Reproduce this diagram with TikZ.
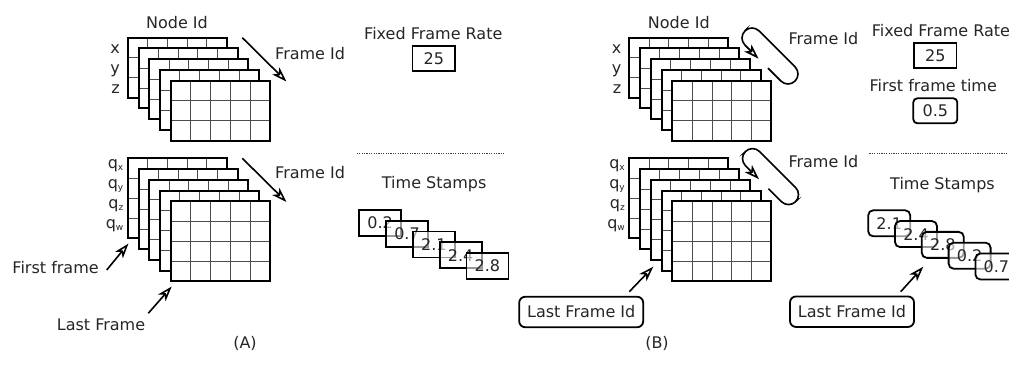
\documentclass[tikz,border=0pt]{standalone}
\usepackage{fontspec}
\setmainfont{DejaVu Sans}
\usetikzlibrary{arrows.meta}
\newcommand\FrameStack[4]{% #1 x, #2 y, #3 height, #4 row lines
  \foreach \i in {0,...,4}{
    \begin{scope}[shift={({#1+10.8*\i},{#2+10.8*\i})}]
      \fill[white] (0,0) rectangle (99,#3);
      \foreach \c in {1,...,4} \draw[gridline] ({19.8*\c},0) -- ({19.8*\c},#3);
      \foreach \r in {#4} \draw[gridline] (0,\r) -- (99,\r);
      \draw[frameline] (0,0) rectangle (99,#3);
    \end{scope}
  }%
}
\newcommand\LoopArrow[2]{%
  \begin{scope}[shift={(#1,#2)}]
    \draw[arr, rounded corners=10pt] (768,68.14) -- (788,88.14) -- (802.14,74) -- (752,23.86) -- (737.86,38) -- (758.5,58.64);
  \end{scope}%
}
\newcommand\qsub[1]{q\raisebox{-2pt}{\fontsize{9}{9}\selectfont #1}}
\begin{document}
\begin{tikzpicture}[x=1pt,y=-1pt,
  every node/.style={font=\fontsize{16}{19}\selectfont, inner sep=0pt, text=black!85},
  frameline/.style={line width=2pt, black},
  gridline/.style={line width=1pt, black!70},
  arr/.style={line width=1.6pt, -{Stealth[open, length=15pt, width=10pt, inset=4pt]}},
  sqbox/.style={draw, line width=1.8pt, minimum width=42.5pt, minimum height=25pt},
  rbox/.style={sqbox, rounded corners=4pt},
  tsbox/.style={draw, line width=1.8pt, fill=white, fill opacity=0.6, text opacity=1, minimum width=42pt, minimum height=26pt},
  tsrbox/.style={tsbox, rounded corners=5pt},
  lfbox/.style={draw, line width=1.8pt, rounded corners=6pt, minimum width=124pt, minimum height=30.5pt},
  dotline/.style={line width=1.3pt, black!75, dash pattern=on 1.2pt off 1.2pt},
]
\useasboundingbox[fill=white] (0,0) rectangle (1009,379);

% ===================== Panel A =====================
\FrameStack{127.7}{37.7}{60}{20,40}
\FrameStack{127.7}{158.3}{80}{20,40,60}

\node[anchor=base] (nidA) at (177,28.3) {Node Id};
\node[anchor=base east] (xA) at (120,53.3) {x};
\node[anchor=base east] (yA) at (120,73.3) {y};
\node[anchor=base east] (zA) at (120,93.3) {z};
\node[anchor=base east] (qxA) at (123.5,168.3) {\qsub{x}};
\node[anchor=base east] (qyA) at (123.5,188.3) {\qsub{y}};
\node[anchor=base east] (qzA) at (123.5,208.3) {\qsub{z}};
\node[anchor=base east] (qwA) at (123.5,228.3) {\qsub{w}};

\coordinate (fa1) at (242.3,37.7);  \coordinate (fa2) at (286.5,81.5);
\coordinate (fa3) at (242.3,158.3); \coordinate (fa4) at (286.5,202);
\draw[arr] (fa1) -- (fa2);
\draw[arr] (fa3) -- (fa4);
\node[anchor=base west] (fidA1) at (275,60) {Frame Id};
\node[anchor=base west] (fidA2) at (275,179) {Frame Id};

\node[anchor=base west] (ffA) at (12.3,273.3) {First frame};
\coordinate (ffs) at (106.7,270); \coordinate (ffe) at (128.5,243.5);
\draw[arr] (ffs) -- (ffe);
\node[anchor=base west] (lfA) at (56.7,330) {Last Frame};
\coordinate (lfs) at (148.3,313.3); \coordinate (lfe) at (171.7,286.5);
\draw[arr] (lfs) -- (lfe);

\node[anchor=base] (ffrA) at (433.3,40) {Fixed Frame Rate};
\node[sqbox] (rateA) at (433.8,58.2) {25};
\draw[dotline] (356.7,153.3) -- (504,153.3);
\node[anchor=base] (tsA) at (434.2,189) {Time Stamps};
\node[tsbox] (ta1) at (380.2,222.9) {0.2};
\node[tsbox] (ta2) at (407.0,233.7) {0.7};
\node[tsbox] (ta3) at (433.8,244.5) {2.1};
\node[tsbox] (ta4) at (460.6,255.3) {2.4};
\node[tsbox] (ta5) at (487.4,266.1) {2.8};

\node (labA) at (245,343) {(A)};

% ===================== Panel B =====================
\FrameStack{629.2}{37.7}{60}{20,40}
\FrameStack{629.2}{158.3}{80}{20,40,60}

\node[anchor=base] (nidB) at (678.8,28.3) {Node Id};
\node[anchor=base east] (xB) at (621.5,53.3) {x};
\node[anchor=base east] (yB) at (621.5,73.3) {y};
\node[anchor=base east] (zB) at (621.5,93.3) {z};
\node[anchor=base east] (qxB) at (625,168.3) {\qsub{x}};
\node[anchor=base east] (qyB) at (625,188.3) {\qsub{y}};
\node[anchor=base east] (qzB) at (625,208.3) {\qsub{z}};
\node[anchor=base east] (qwB) at (625,228.3) {\qsub{w}};

\LoopArrow{0}{0}
\LoopArrow{0.5}{120.6}
\node[anchor=base west] (fidB1) at (788.3,44.3) {Frame Id};
\node[anchor=base west] (fidB2) at (788.3,167.5) {Frame Id};

\node[lfbox] (lfidB1) at (581.2,312) {Last Frame Id};
\coordinate (lb1s) at (629.3,291.7); \coordinate (lb1e) at (653.3,266.7);
\draw[arr] (lb1s) -- (lb1e);

\node[anchor=base west] (ffrB) at (871.7,36.7) {Fixed Frame Rate};
\node[sqbox] (rateB) at (935.3,55.8) {25};
\node[anchor=base west] (fftB) at (869.3,91.7) {First frame time};
\node[rbox, minimum width=44pt] (fftvB) at (935.3,110.8) {0.5};
\draw[dotline] (869.3,153.3) -- (1009,153.3);
\node[anchor=base west] (tsB) at (890,189.3) {Time Stamps};
\node[tsrbox] (tb1) at (889.2,223.3) {2.1};
\node[tsrbox] (tb2) at (916.0,234.1) {2.4};
\node[tsrbox] (tb3) at (942.8,244.9) {2.8};
\node[tsrbox] (tb4) at (969.6,255.7) {0.2};
\node[tsrbox] (tb5) at (996.4,266.5) {0.7};

\node[lfbox] (lfidB2) at (852,311.7) {Last Frame Id};
\coordinate (lb2s) at (900.7,291.7); \coordinate (lb2e) at (923.3,266.7);
\draw[arr] (lb2s) -- (lb2e);

\node (labB) at (657,343) {(B)};
\end{tikzpicture}
\end{document}
